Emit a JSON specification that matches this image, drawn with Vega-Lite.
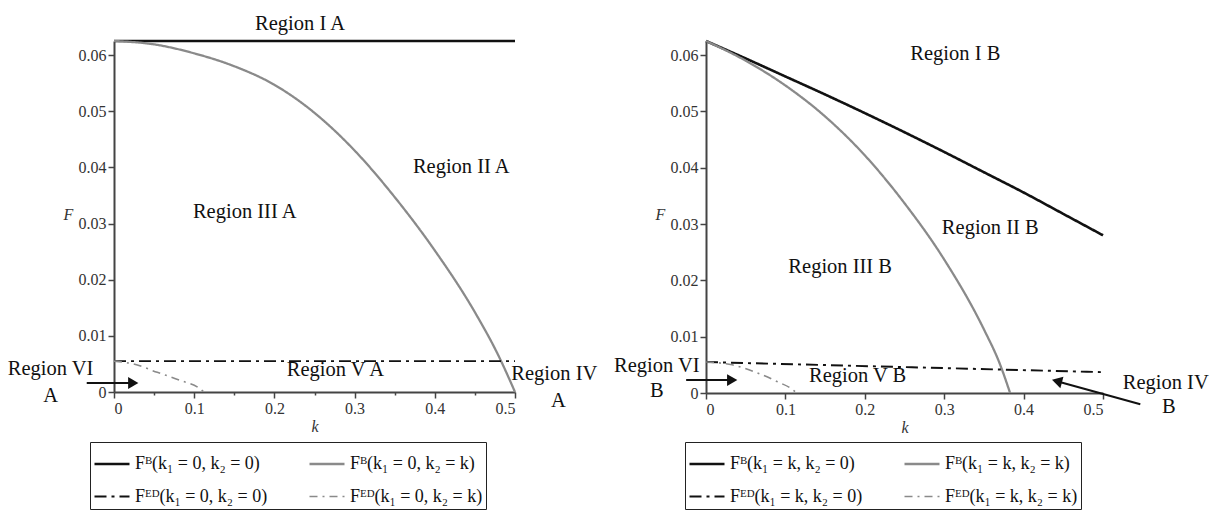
{
  "$schema": "https://vega.github.io/schema/vega-lite/v6.json",
  "background": "white",
  "padding": {"left": 7, "top": 13, "right": 2, "bottom": 2},
  "autosize": {"type": "pad"},
  "bounds": "flush",
  "spacing": 191,
  "config": {
    "view": {"stroke": null},
    "font": "Liberation Serif",
    "axis": {
      "domainColor": "#444",
      "domainWidth": 2,
      "tickColor": "#444",
      "tickWidth": 1.5,
      "labelFont": "Liberation Serif",
      "labelFontSize": 16,
      "labelColor": "#333",
      "labelPadding": 2,
      "grid": false,
      "titleFont": "Liberation Serif",
      "titleFontStyle": "italic",
      "titleFontWeight": "normal",
      "titleFontSize": 16,
      "titleColor": "#333"
    },
    "legend": {
      "orient": "none",
      "direction": "horizontal",
      "columns": 2,
      "symbolType": "stroke",
      "symbolSize": 1225,
      "labelFont": "Liberation Serif",
      "labelFontSize": 18,
      "labelColor": "#111",
      "labelLimit": 400,
      "columnPadding": 36,
      "rowPadding": 5,
      "padding": 3,
      "strokeColor": "#222",
      "title": null
    }
  },
  "resolve": {
    "scale": {"color": "independent", "strokeDash": "independent", "strokeWidth": "independent", "x": "independent", "y": "independent"},
    "legend": {"color": "independent", "strokeDash": "independent", "strokeWidth": "independent"}
  },
  "datasets": {
    "leftLines": [
      {"series": "Fᴮ(k₁ = 0, k₂ = 0)", "k": 0, "F": 0.0625},
      {"series": "Fᴮ(k₁ = 0, k₂ = 0)", "k": 0.5, "F": 0.0625},
      {"series": "Fᴮ(k₁ = 0, k₂ = k)", "k": 0, "F": 0.0625},
      {"series": "Fᴮ(k₁ = 0, k₂ = k)", "k": 0.05, "F": 0.0619},
      {"series": "Fᴮ(k₁ = 0, k₂ = k)", "k": 0.1, "F": 0.0603},
      {"series": "Fᴮ(k₁ = 0, k₂ = k)", "k": 0.15, "F": 0.058},
      {"series": "Fᴮ(k₁ = 0, k₂ = k)", "k": 0.2, "F": 0.0547},
      {"series": "Fᴮ(k₁ = 0, k₂ = k)", "k": 0.25, "F": 0.0497},
      {"series": "Fᴮ(k₁ = 0, k₂ = k)", "k": 0.3, "F": 0.043},
      {"series": "Fᴮ(k₁ = 0, k₂ = k)", "k": 0.35, "F": 0.0347},
      {"series": "Fᴮ(k₁ = 0, k₂ = k)", "k": 0.4, "F": 0.0252},
      {"series": "Fᴮ(k₁ = 0, k₂ = k)", "k": 0.45, "F": 0.0142},
      {"series": "Fᴮ(k₁ = 0, k₂ = k)", "k": 0.48, "F": 0.0063},
      {"series": "Fᴮ(k₁ = 0, k₂ = k)", "k": 0.5, "F": 0},
      {"series": "Fᴱᴰ(k₁ = 0, k₂ = 0)", "k": 0, "F": 0.0055},
      {"series": "Fᴱᴰ(k₁ = 0, k₂ = 0)", "k": 0.5, "F": 0.0055},
      {"series": "Fᴱᴰ(k₁ = 0, k₂ = k)", "k": 0, "F": 0.0055},
      {"series": "Fᴱᴰ(k₁ = 0, k₂ = k)", "k": 0.024, "F": 0.005},
      {"series": "Fᴱᴰ(k₁ = 0, k₂ = k)", "k": 0.054, "F": 0.0035},
      {"series": "Fᴱᴰ(k₁ = 0, k₂ = k)", "k": 0.082, "F": 0.0021},
      {"series": "Fᴱᴰ(k₁ = 0, k₂ = k)", "k": 0.107, "F": 0.0006},
      {"series": "Fᴱᴰ(k₁ = 0, k₂ = k)", "k": 0.112, "F": 0}
    ],
    "rightLines": [
      {"series": "Fᴮ(k₁ = k, k₂ = 0)", "k": 0, "F": 0.0625},
      {"series": "Fᴮ(k₁ = k, k₂ = 0)", "k": 0.05, "F": 0.0594},
      {"series": "Fᴮ(k₁ = k, k₂ = 0)", "k": 0.1, "F": 0.0562},
      {"series": "Fᴮ(k₁ = k, k₂ = 0)", "k": 0.15, "F": 0.053},
      {"series": "Fᴮ(k₁ = k, k₂ = 0)", "k": 0.2, "F": 0.0497},
      {"series": "Fᴮ(k₁ = k, k₂ = 0)", "k": 0.25, "F": 0.0463},
      {"series": "Fᴮ(k₁ = k, k₂ = 0)", "k": 0.3, "F": 0.0428},
      {"series": "Fᴮ(k₁ = k, k₂ = 0)", "k": 0.35, "F": 0.0392},
      {"series": "Fᴮ(k₁ = k, k₂ = 0)", "k": 0.4, "F": 0.0356},
      {"series": "Fᴮ(k₁ = k, k₂ = 0)", "k": 0.45, "F": 0.0318},
      {"series": "Fᴮ(k₁ = k, k₂ = 0)", "k": 0.5, "F": 0.028},
      {"series": "Fᴮ(k₁ = k, k₂ = k)", "k": 0, "F": 0.0625},
      {"series": "Fᴮ(k₁ = k, k₂ = k)", "k": 0.05, "F": 0.059},
      {"series": "Fᴮ(k₁ = k, k₂ = k)", "k": 0.1, "F": 0.0546},
      {"series": "Fᴮ(k₁ = k, k₂ = k)", "k": 0.15, "F": 0.0491},
      {"series": "Fᴮ(k₁ = k, k₂ = k)", "k": 0.2, "F": 0.0422},
      {"series": "Fᴮ(k₁ = k, k₂ = k)", "k": 0.25, "F": 0.0337},
      {"series": "Fᴮ(k₁ = k, k₂ = k)", "k": 0.3, "F": 0.0237},
      {"series": "Fᴮ(k₁ = k, k₂ = k)", "k": 0.35, "F": 0.0113},
      {"series": "Fᴮ(k₁ = k, k₂ = k)", "k": 0.37, "F": 0.0052},
      {"series": "Fᴮ(k₁ = k, k₂ = k)", "k": 0.383, "F": 0},
      {"series": "Fᴱᴰ(k₁ = k, k₂ = 0)", "k": 0, "F": 0.0055},
      {"series": "Fᴱᴰ(k₁ = k, k₂ = 0)", "k": 0.25, "F": 0.0046},
      {"series": "Fᴱᴰ(k₁ = k, k₂ = 0)", "k": 0.5, "F": 0.0037},
      {"series": "Fᴱᴰ(k₁ = k, k₂ = k)", "k": 0, "F": 0.0055},
      {"series": "Fᴱᴰ(k₁ = k, k₂ = k)", "k": 0.033, "F": 0.005},
      {"series": "Fᴱᴰ(k₁ = k, k₂ = k)", "k": 0.064, "F": 0.0036},
      {"series": "Fᴱᴰ(k₁ = k, k₂ = k)", "k": 0.09, "F": 0.002},
      {"series": "Fᴱᴰ(k₁ = k, k₂ = k)", "k": 0.11, "F": 0.0005},
      {"series": "Fᴱᴰ(k₁ = k, k₂ = k)", "k": 0.114, "F": 0}
    ],
    "leftText": [
      {"label": "Region I A", "k": 0.232, "F": 0.0656},
      {"label": "Region II A", "k": 0.433, "F": 0.04},
      {"label": "Region III A", "k": 0.163, "F": 0.0321},
      {"label": "Region V A", "k": 0.276, "F": 0.0039},
      {"label": "Region VI", "k": -0.079, "F": 0.0041},
      {"label": "A", "k": -0.079, "F": -0.0007},
      {"label": "Region IV", "k": 0.549, "F": 0.0032},
      {"label": "A", "k": 0.554, "F": -0.0016}
    ],
    "rightText": [
      {"label": "Region I B", "k": 0.314, "F": 0.0602},
      {"label": "Region II B", "k": 0.358, "F": 0.0293},
      {"label": "Region III B", "k": 0.169, "F": 0.0223},
      {"label": "Region V B", "k": 0.191, "F": 0.003},
      {"label": "Region VI", "k": -0.062, "F": 0.0048},
      {"label": "B", "k": -0.062, "F": 0.0004},
      {"label": "Region IV", "k": 0.579, "F": 0.0018},
      {"label": "B", "k": 0.583, "F": -0.0025}
    ],
    "leftArrow": [
      {"k": -0.034, "F": 0.0016, "k2": 0.024, "F2": 0.0016}
    ],
    "rightArrowH": [
      {"k": -0.025, "F": 0.0023, "k2": 0.033, "F2": 0.0023}
    ],
    "rightArrowD": [
      {"k": 0.547, "F": -0.002, "k2": 0.442, "F2": 0.0021}
    ]
  },
  "hconcat": [
    {
      "width": 401,
      "height": 351,
      "layer": [
        {
          "data": {"name": "leftLines"},
          "mark": {"type": "line", "interpolate": "monotone"},
          "encoding": {
            "x": {
              "field": "k", "type": "quantitative",
              "scale": {"domain": [0, 0.5], "nice": false, "zero": false},
              "axis": {
                "title": "k", "titlePadding": 2,
                "values": [0, 0.05, 0.1, 0.15, 0.2, 0.25, 0.3, 0.35, 0.4, 0.45, 0.5],
                "labelExpr": "round(datum.value*100) % 10 == 0 ? format(datum.value, '.1~f') : ''",
                "tickSize": {"condition": {"test": "round(datum.value*100) % 10 == 0", "value": 6}, "value": 3}
              }
            },
            "y": {
              "field": "F", "type": "quantitative",
              "scale": {"domain": [0, 0.0625], "nice": false, "zero": false},
              "axis": {
                "title": "F", "titleAngle": 0, "titleX": -46, "titleY": 173, "titleAlign": "center", "titleBaseline": "middle",
                "values": [0, 0.005, 0.01, 0.015, 0.02, 0.025, 0.03, 0.035, 0.04, 0.045, 0.05, 0.055, 0.06],
                "labelExpr": "round(datum.value*1000) % 10 == 0 ? format(datum.value, '.2~f') : ''",
                "tickSize": {"condition": {"test": "round(datum.value*1000) % 10 == 0", "value": 6}, "value": 3}
              }
            },
            "color": {
              "field": "series", "type": "nominal",
              "scale": {"domain": ["Fᴮ(k₁ = 0, k₂ = 0)", "Fᴮ(k₁ = 0, k₂ = k)", "Fᴱᴰ(k₁ = 0, k₂ = 0)", "Fᴱᴰ(k₁ = 0, k₂ = k)"], "range": ["#111111", "#8a8a8a", "#111111", "#8a8a8a"]},
              "legend": {"legendX": -24, "legendY": 401}
            },
            "strokeDash": {
              "field": "series", "type": "nominal",
              "scale": {"domain": ["Fᴮ(k₁ = 0, k₂ = 0)", "Fᴮ(k₁ = 0, k₂ = k)", "Fᴱᴰ(k₁ = 0, k₂ = 0)", "Fᴱᴰ(k₁ = 0, k₂ = k)"], "range": [[1, 0], [1, 0], [12, 5, 3, 5], [8, 5, 2, 5]]},
              "legend": {"legendX": -24, "legendY": 401}
            },
            "strokeWidth": {
              "field": "series", "type": "nominal",
              "scale": {"domain": ["Fᴮ(k₁ = 0, k₂ = 0)", "Fᴮ(k₁ = 0, k₂ = k)", "Fᴱᴰ(k₁ = 0, k₂ = 0)", "Fᴱᴰ(k₁ = 0, k₂ = k)"], "range": [2.6, 1.6, 2.6, 1.6]},
              "legend": {"legendX": -24, "legendY": 401}
            }
          }
        },
        {
          "data": {"name": "leftText"},
          "mark": {"type": "text", "font": "Liberation Serif", "fontSize": 20.5, "color": "#111"},
          "encoding": {
            "x": {"field": "k", "type": "quantitative", "scale": {"domain": [0, 0.5], "nice": false, "zero": false}},
            "y": {"field": "F", "type": "quantitative", "scale": {"domain": [0, 0.0625], "nice": false, "zero": false}},
            "text": {"field": "label", "type": "nominal"}
          }
        },
        {
          "data": {"name": "leftArrow"},
          "mark": {"type": "rule", "strokeWidth": 2, "color": "#111"},
          "encoding": {
            "x": {"field": "k", "type": "quantitative", "scale": {"domain": [0, 0.5], "nice": false, "zero": false}},
            "y": {"field": "F", "type": "quantitative", "scale": {"domain": [0, 0.0625], "nice": false, "zero": false}},
            "x2": {"field": "k2"},
            "y2": {"field": "F2"}
          }
        },
        {
          "data": {"name": "leftArrow"},
          "mark": {"type": "point", "shape": "triangle-right", "filled": true, "size": 140, "color": "#111", "opacity": 1},
          "encoding": {
            "x": {"field": "k2", "type": "quantitative", "scale": {"domain": [0, 0.5], "nice": false, "zero": false}},
            "y": {"field": "F2", "type": "quantitative", "scale": {"domain": [0, 0.0625], "nice": false, "zero": false}}
          }
        }
      ]
    },
    {
      "width": 397,
      "height": 352,
      "layer": [
        {
          "data": {"name": "rightLines"},
          "mark": {"type": "line", "interpolate": "monotone"},
          "encoding": {
            "x": {
              "field": "k", "type": "quantitative",
              "scale": {"domain": [0, 0.5], "nice": false, "zero": false},
              "axis": {
                "title": "k", "titlePadding": 2,
                "values": [0, 0.05, 0.1, 0.15, 0.2, 0.25, 0.3, 0.35, 0.4, 0.45, 0.5],
                "labelExpr": "round(datum.value*100) % 10 == 0 ? format(datum.value, '.1~f') : ''",
                "tickSize": {"condition": {"test": "round(datum.value*100) % 10 == 0", "value": 6}, "value": 3}
              }
            },
            "y": {
              "field": "F", "type": "quantitative",
              "scale": {"domain": [0, 0.0625], "nice": false, "zero": false},
              "axis": {
                "title": "F", "titleAngle": 0, "titleX": -46, "titleY": 173, "titleAlign": "center", "titleBaseline": "middle",
                "values": [0, 0.005, 0.01, 0.015, 0.02, 0.025, 0.03, 0.035, 0.04, 0.045, 0.05, 0.055, 0.06],
                "labelExpr": "round(datum.value*1000) % 10 == 0 ? format(datum.value, '.2~f') : ''",
                "tickSize": {"condition": {"test": "round(datum.value*1000) % 10 == 0", "value": 6}, "value": 3}
              }
            },
            "color": {
              "field": "series", "type": "nominal",
              "scale": {"domain": ["Fᴮ(k₁ = k, k₂ = 0)", "Fᴮ(k₁ = k, k₂ = k)", "Fᴱᴰ(k₁ = k, k₂ = 0)", "Fᴱᴰ(k₁ = k, k₂ = k)"], "range": ["#111111", "#8a8a8a", "#111111", "#8a8a8a"]},
              "legend": {"legendX": -21, "legendY": 401}
            },
            "strokeDash": {
              "field": "series", "type": "nominal",
              "scale": {"domain": ["Fᴮ(k₁ = k, k₂ = 0)", "Fᴮ(k₁ = k, k₂ = k)", "Fᴱᴰ(k₁ = k, k₂ = 0)", "Fᴱᴰ(k₁ = k, k₂ = k)"], "range": [[1, 0], [1, 0], [12, 5, 3, 5], [8, 5, 2, 5]]},
              "legend": {"legendX": -21, "legendY": 401}
            },
            "strokeWidth": {
              "field": "series", "type": "nominal",
              "scale": {"domain": ["Fᴮ(k₁ = k, k₂ = 0)", "Fᴮ(k₁ = k, k₂ = k)", "Fᴱᴰ(k₁ = k, k₂ = 0)", "Fᴱᴰ(k₁ = k, k₂ = k)"], "range": [2.6, 1.6, 2.6, 1.6]},
              "legend": {"legendX": -21, "legendY": 401}
            }
          }
        },
        {
          "data": {"name": "rightText"},
          "mark": {"type": "text", "font": "Liberation Serif", "fontSize": 20.5, "color": "#111"},
          "encoding": {
            "x": {"field": "k", "type": "quantitative", "scale": {"domain": [0, 0.5], "nice": false, "zero": false}},
            "y": {"field": "F", "type": "quantitative", "scale": {"domain": [0, 0.0625], "nice": false, "zero": false}},
            "text": {"field": "label", "type": "nominal"}
          }
        },
        {
          "data": {"name": "rightArrowH"},
          "mark": {"type": "rule", "strokeWidth": 2, "color": "#111"},
          "encoding": {
            "x": {"field": "k", "type": "quantitative", "scale": {"domain": [0, 0.5], "nice": false, "zero": false}},
            "y": {"field": "F", "type": "quantitative", "scale": {"domain": [0, 0.0625], "nice": false, "zero": false}},
            "x2": {"field": "k2"},
            "y2": {"field": "F2"}
          }
        },
        {
          "data": {"name": "rightArrowH"},
          "mark": {"type": "point", "shape": "triangle-right", "filled": true, "size": 140, "color": "#111", "opacity": 1},
          "encoding": {
            "x": {"field": "k2", "type": "quantitative", "scale": {"domain": [0, 0.5], "nice": false, "zero": false}},
            "y": {"field": "F2", "type": "quantitative", "scale": {"domain": [0, 0.0625], "nice": false, "zero": false}}
          }
        },
        {
          "data": {"name": "rightArrowD"},
          "mark": {"type": "rule", "strokeWidth": 2, "color": "#111"},
          "encoding": {
            "x": {"field": "k", "type": "quantitative", "scale": {"domain": [0, 0.5], "nice": false, "zero": false}},
            "y": {"field": "F", "type": "quantitative", "scale": {"domain": [0, 0.0625], "nice": false, "zero": false}},
            "x2": {"field": "k2"},
            "y2": {"field": "F2"}
          }
        },
        {
          "data": {"name": "rightArrowD"},
          "mark": {"type": "point", "shape": "triangle-right", "filled": true, "size": 140, "color": "#111", "opacity": 1, "angle": 195},
          "encoding": {
            "x": {"field": "k2", "type": "quantitative", "scale": {"domain": [0, 0.5], "nice": false, "zero": false}},
            "y": {"field": "F2", "type": "quantitative", "scale": {"domain": [0, 0.0625], "nice": false, "zero": false}}
          }
        }
      ]
    }
  ]
}
